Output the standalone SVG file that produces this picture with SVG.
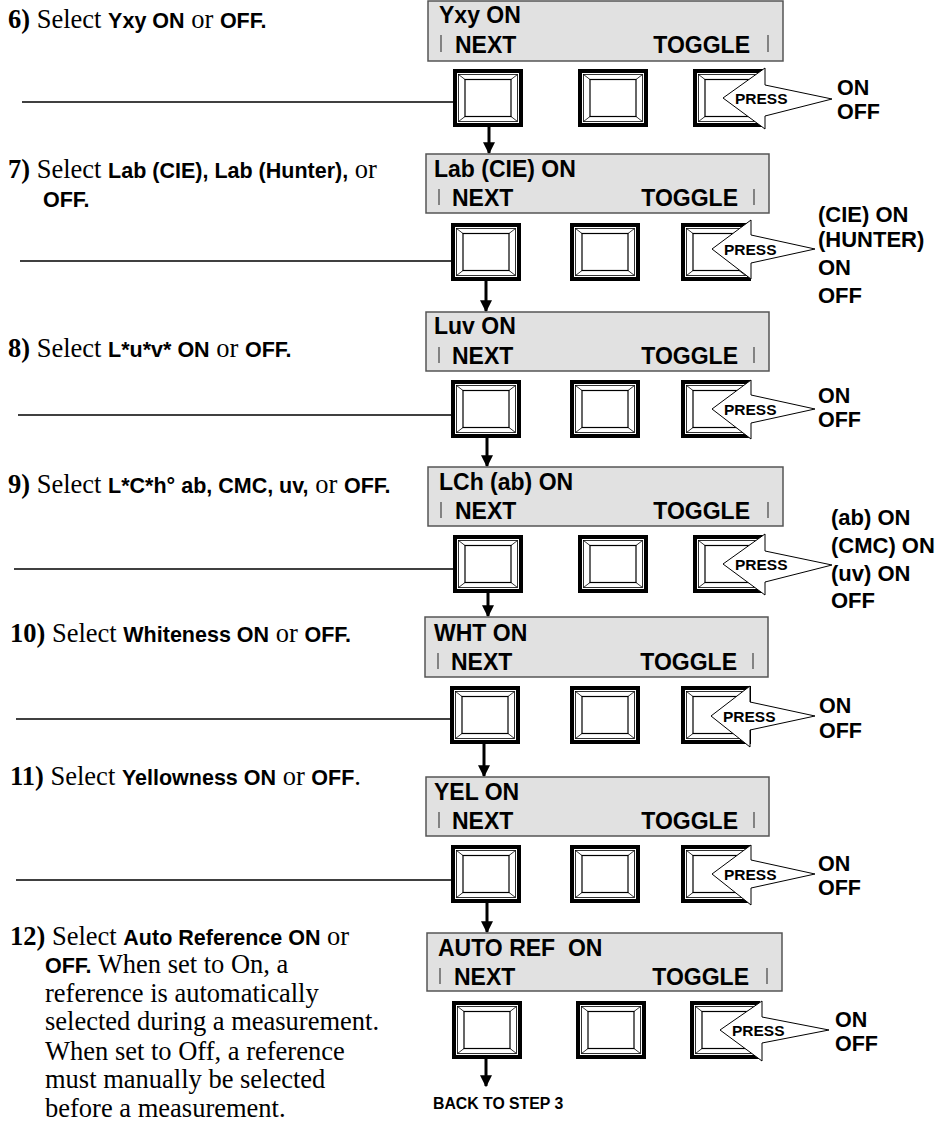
<svg xmlns="http://www.w3.org/2000/svg" xmlns:xlink="http://www.w3.org/1999/xlink" width="951" height="1126" viewBox="0 0 951 1126">
<style>
.disp{fill:#e1e1e1;stroke:#555;stroke-width:1.5}
.dt{font-family:"Liberation Sans",Arial,sans-serif;font-weight:bold;font-size:23px;fill:#000}
.bar{stroke:#444;stroke-width:1.2}
.pr{fill:#fff;stroke:#000;stroke-width:1}
.pt{font-family:"Liberation Sans",Arial,sans-serif;font-weight:bold;font-size:15.5px}
.lb{font-family:"Liberation Sans",Arial,sans-serif;font-weight:bold;font-size:22px}
.lb2{font-family:"Liberation Sans",Arial,sans-serif;font-weight:bold;font-size:21.5px}
.tx{font-family:"Liberation Serif","Times New Roman",serif;font-size:26.5px}
.b{font-weight:bold}
.s{font-family:"Liberation Sans",Arial,sans-serif;font-weight:bold;font-size:21.5px}
.ln{stroke:#000;stroke-width:1.5;fill:none}
.ar{stroke:#000;stroke-width:3;fill:none}
</style>
<defs>
<g id="btn">
<rect x="2" y="2" width="66" height="54" fill="#fff" stroke="#000" stroke-width="4"/>
<rect x="5.5" y="5.5" width="59" height="47" fill="none" stroke="#000" stroke-width="0.8"/>
<rect x="12" y="10.5" width="46" height="37" fill="none" stroke="#000" stroke-width="1.2"/>
<path d="M5.5 5.5L12 10.5M64.5 5.5L58 10.5M5.5 52.5L12 47.5M64.5 52.5L58 47.5" stroke="#000" stroke-width="0.8"/>
</g>
<marker id="ah" viewBox="0 0 10 10" refX="9" refY="5" markerWidth="4" markerHeight="4" markerUnits="strokeWidth" orient="auto">
<path d="M0 0L10 5L0 10z" fill="#000"/>
</marker>
</defs>

<g id="connectors">
<line class="ln" x1="22" y1="102" x2="453" y2="102"/>
<line class="ln" x1="20" y1="261" x2="451" y2="261"/>
<line class="ln" x1="18" y1="415" x2="451" y2="415"/>
<line class="ln" x1="14" y1="569" x2="453" y2="569"/>
<line class="ln" x1="16" y1="719" x2="450" y2="719"/>
<line class="ln" x1="16" y1="880" x2="451" y2="880"/>
<line class="ar" x1="489" y1="127" x2="489" y2="153" marker-end="url(#ah)"/>
<line class="ar" x1="486" y1="280" x2="486" y2="311" marker-end="url(#ah)"/>
<line class="ar" x1="487" y1="438" x2="487" y2="466" marker-end="url(#ah)"/>
<line class="ar" x1="488" y1="593" x2="488" y2="616" marker-end="url(#ah)"/>
<line class="ar" x1="484" y1="744" x2="484" y2="776" marker-end="url(#ah)"/>
<line class="ar" x1="487" y1="903" x2="487" y2="932" marker-end="url(#ah)"/>
<line class="ar" x1="486" y1="1058" x2="486" y2="1086" marker-end="url(#ah)"/>
</g>

<g id="step6">
<text class="tx" x="8" y="28"><tspan class="b">6)</tspan> Select <tspan class="s">Yxy ON</tspan> or <tspan class="s">OFF.</tspan></text>
<rect class="disp" x="428" y="1" width="355" height="60"/>
<text class="dt" x="439" y="23">Yxy ON</text>
<text class="dt" x="455" y="53">NEXT</text>
<text class="dt" x="750" y="53" text-anchor="end">TOGGLE</text>
<line class="bar" x1="441" y1="35" x2="441" y2="52"/>
<line class="bar" x1="768" y1="35" x2="768" y2="52"/>
<use xlink:href="#btn" x="453" y="69"/>
<use xlink:href="#btn" x="578" y="69"/>
<use xlink:href="#btn" x="693" y="69"/>
<polygon class="pr" points="723,98 765,68 765,85 832,99 765,116 765,129"/>
<text class="pt" x="735" y="104">PRESS</text>
<text class="lb2" x="837" y="95">ON</text>
<text class="lb2" x="837" y="119">OFF</text>
</g>

<g id="step7">
<text class="tx" x="8" y="178"><tspan class="b">7)</tspan> Select <tspan class="s">Lab (CIE), Lab (Hunter),</tspan> or</text>
<text class="tx" x="43" y="207"><tspan class="s">OFF.</tspan></text>
<rect class="disp" x="426" y="154" width="343" height="59"/>
<text class="dt" x="434" y="177">Lab (CIE) ON</text>
<text class="dt" x="452" y="206">NEXT</text>
<text class="dt" x="738" y="206" text-anchor="end">TOGGLE</text>
<line class="bar" x1="439" y1="189" x2="439" y2="205"/>
<line class="bar" x1="754" y1="189" x2="754" y2="205"/>
<use xlink:href="#btn" x="451" y="223"/>
<use xlink:href="#btn" x="570" y="223"/>
<use xlink:href="#btn" x="681" y="223"/>
<polygon class="pr" points="712,249 751,220 751,235 815,249 751,263 751,279"/>
<text class="pt" x="724" y="255">PRESS</text>
<text class="lb" x="818" y="222">(CIE) ON</text>
<text class="lb" x="818" y="247">(HUNTER)</text>
<text class="lb" x="818" y="275">ON</text>
<text class="lb" x="818" y="303">OFF</text>
</g>

<g id="step8">
<text class="tx" x="8" y="357"><tspan class="b">8)</tspan> Select <tspan class="s">L*u*v* ON</tspan> or <tspan class="s">OFF.</tspan></text>
<rect class="disp" x="426" y="312" width="343" height="59"/>
<text class="dt" x="434" y="334">Luv ON</text>
<text class="dt" x="452" y="364">NEXT</text>
<text class="dt" x="738" y="364" text-anchor="end">TOGGLE</text>
<line class="bar" x1="439" y1="347" x2="439" y2="363"/>
<line class="bar" x1="754" y1="347" x2="754" y2="363"/>
<use xlink:href="#btn" x="451" y="380"/>
<use xlink:href="#btn" x="570" y="380"/>
<use xlink:href="#btn" x="681" y="380"/>
<polygon class="pr" points="712,409 751,380 751,395 815,409 751,423 751,439"/>
<text class="pt" x="724" y="415">PRESS</text>
<text class="lb2" x="818" y="403">ON</text>
<text class="lb2" x="818" y="427">OFF</text>
</g>

<g id="step9">
<text class="tx" x="8" y="493"><tspan class="b">9)</tspan> Select <tspan class="s">L*C*h° ab, CMC, uv,</tspan> or <tspan class="s">OFF.</tspan></text>
<rect class="disp" x="428" y="467" width="355" height="59"/>
<text class="dt" x="439" y="490">LCh (ab) ON</text>
<text class="dt" x="455" y="519">NEXT</text>
<text class="dt" x="750" y="519" text-anchor="end">TOGGLE</text>
<line class="bar" x1="441" y1="502" x2="441" y2="518"/>
<line class="bar" x1="768" y1="502" x2="768" y2="518"/>
<use xlink:href="#btn" x="453" y="535"/>
<use xlink:href="#btn" x="578" y="535"/>
<use xlink:href="#btn" x="693" y="535"/>
<polygon class="pr" points="723,564 765,534 765,551 832,565 765,582 765,595"/>
<text class="pt" x="735" y="570">PRESS</text>
<text class="lb" x="831" y="525">(ab) ON</text>
<text class="lb" x="831" y="553">(CMC) ON</text>
<text class="lb" x="831" y="581">(uv) ON</text>
<text class="lb" x="831" y="608">OFF</text>
</g>

<g id="step10">
<text class="tx" x="10" y="642"><tspan class="b">10)</tspan> Select <tspan class="s">Whiteness ON</tspan> or <tspan class="s">OFF.</tspan></text>
<rect class="disp" x="425" y="617" width="343" height="60"/>
<text class="dt" x="434" y="641">WHT ON</text>
<text class="dt" x="451" y="670">NEXT</text>
<text class="dt" x="737" y="670" text-anchor="end">TOGGLE</text>
<line class="bar" x1="438" y1="653" x2="438" y2="669"/>
<line class="bar" x1="753" y1="653" x2="753" y2="669"/>
<use xlink:href="#btn" x="450" y="686"/>
<use xlink:href="#btn" x="570" y="686"/>
<use xlink:href="#btn" x="681" y="686"/>
<polygon class="pr" points="711,716 750,686 750,702 815,716 750,730 750,747"/>
<text class="pt" x="723" y="722">PRESS</text>
<text class="lb2" x="819" y="713">ON</text>
<text class="lb2" x="819" y="738">OFF</text>
</g>

<g id="step11">
<text class="tx" x="10" y="785"><tspan class="b">11)</tspan> Select <tspan class="s">Yellowness ON</tspan> or <tspan class="s">OFF</tspan>.</text>
<rect class="disp" x="426" y="777" width="343" height="59"/>
<text class="dt" x="434" y="800">YEL ON</text>
<text class="dt" x="452" y="829">NEXT</text>
<text class="dt" x="738" y="829" text-anchor="end">TOGGLE</text>
<line class="bar" x1="439" y1="812" x2="439" y2="828"/>
<line class="bar" x1="754" y1="812" x2="754" y2="828"/>
<use xlink:href="#btn" x="451" y="845"/>
<use xlink:href="#btn" x="570" y="845"/>
<use xlink:href="#btn" x="681" y="845"/>
<polygon class="pr" points="712,874 751,845 751,860 815,874 751,888 751,905"/>
<text class="pt" x="724" y="880">PRESS</text>
<text class="lb2" x="818" y="871">ON</text>
<text class="lb2" x="818" y="895">OFF</text>
</g>

<g id="step12">
<text class="tx" x="10" y="945"><tspan class="b">12)</tspan> Select <tspan class="s">Auto Reference ON</tspan> or</text>
<text class="tx" x="45" y="973"><tspan class="s">OFF.</tspan> When set to On, a</text>
<text class="tx" x="45" y="1002">reference is automatically</text>
<text class="tx" x="45" y="1030">selected during a measurement.</text>
<text class="tx" x="45" y="1060">When set to Off, a reference</text>
<text class="tx" x="45" y="1088">must manually be selected</text>
<text class="tx" x="45" y="1117">before a measurement.</text>
<rect class="disp" x="427" y="933" width="355" height="58"/>
<text class="dt" x="438" y="956">AUTO REF&#160; ON</text>
<text class="dt" x="454" y="985">NEXT</text>
<text class="dt" x="749" y="985" text-anchor="end">TOGGLE</text>
<line class="bar" x1="440" y1="968" x2="440" y2="984"/>
<line class="bar" x1="767" y1="968" x2="767" y2="984"/>
<use xlink:href="#btn" x="452" y="1001"/>
<use xlink:href="#btn" x="576" y="1001"/>
<use xlink:href="#btn" x="690" y="1001"/>
<polygon class="pr" points="720,1030 762,1001 762,1017 829,1030 762,1043 762,1061"/>
<text class="pt" x="732" y="1036">PRESS</text>
<text class="lb2" x="835" y="1027">ON</text>
<text class="lb2" x="835" y="1051">OFF</text>
<text class="pt" x="433" y="1109" style="font-size:15.8px">BACK TO STEP 3</text>
</g>
</svg>
